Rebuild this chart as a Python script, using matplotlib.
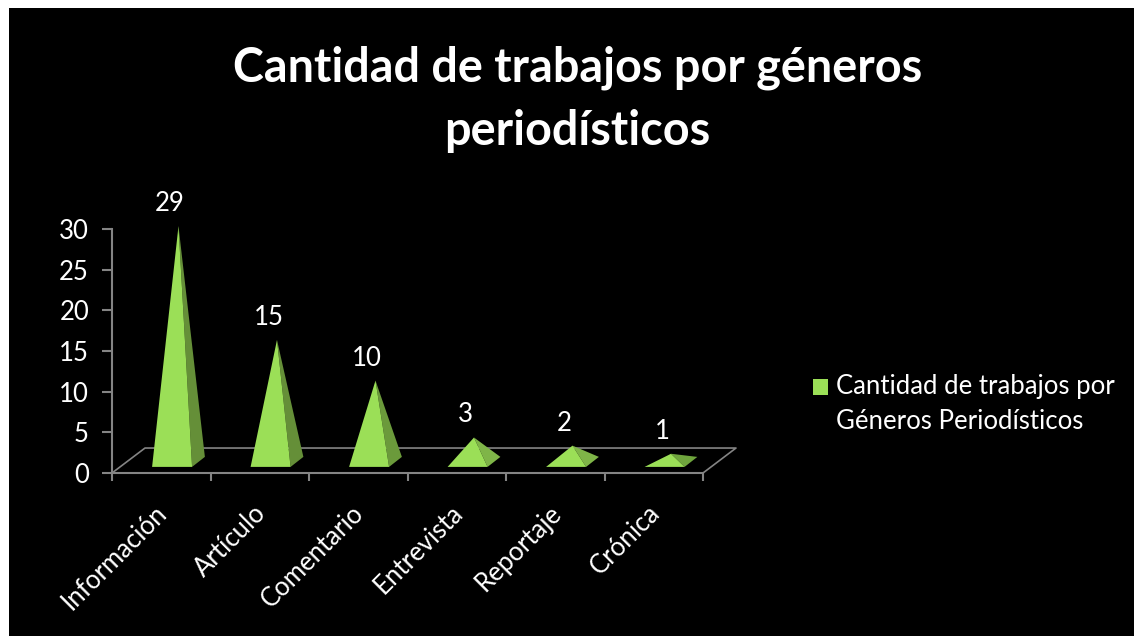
import matplotlib
matplotlib.use('Agg')
import matplotlib.pyplot as plt
from matplotlib.patches import Polygon, Patch, Rectangle

plt.rcParams['font.family'] = ['Lato', 'DejaVu Sans']

# Values
categories = ['Información', 'Artículo', 'Comentario', 'Entrevista', 'Reportaje', 'Crónica']
trabajos = [29, 15, 10, 3, 2, 1]
y_ticks = [0, 5, 10, 15, 20, 25, 30]
serie = 'Cantidad de trabajos por\nGéneros Periodísticos'
titulo = 'Cantidad de trabajos por géneros\nperiodísticos'

W, H = 1134, 636
GRIS = '#848484'
VERDE = '#9BDF57'
# side faces look lighter on the flat pyramids
lados = ['#658F38', '#658F38', '#6B9A3B', '#7FB548', '#7FB548', '#6FA53D']

fig = plt.figure(figsize=(W / 100, H / 100), dpi=100, facecolor='white')
fig.patches.append(Rectangle((9 / W, 0), 1, 1 - 8 / H, transform=fig.transFigure,
                             facecolor='black', edgecolor='none', zorder=-1))

ax = fig.add_axes([112 / W, 1 - 473 / H, 591 / W, 244 / H])
ax.set_facecolor('none')
ax.set_xlim(0, len(categories))
ax.set_ylim(0, 30)

for s in ['top', 'right']:
    ax.spines[s].set_visible(False)
for s in ['left', 'bottom']:
    ax.spines[s].set_color(GRIS)
    ax.spines[s].set_linewidth(1.5)

ax.set_yticks(y_ticks)
ax.set_xticks(range(len(categories) + 1))
ax.set_xticklabels([])
# labels sit a bit left of the category centre
ax.set_xticks([i + 0.43 for i in range(len(categories))], minor=True)
ax.set_xticklabels(categories, minor=True, rotation=45, ha='right', va='top',
                   rotation_mode='anchor', color='white', fontsize=18.5)
ax.tick_params(axis='x', which='major', length=6, width=1.5, color=GRIS)
ax.tick_params(axis='x', which='minor', length=0, pad=19.5)
ax.tick_params(axis='y', length=7, width=1.5, color=GRIS, labelcolor='white',
               labelsize=18.5, pad=9.5)

# floor of the fake 3D box
n = len(categories)
prof_x, prof_y = 0.335, 3.07
ax.plot([0, prof_x, n + prof_x, n], [0, prof_y, prof_y, 0], color=GRIS, lw=1.2, clip_on=False)

# pyramids
media = 0.203
for i, v in enumerate(trabajos):
    cx = i + 0.5 + 0.11
    y0 = 0.75
    fl = (cx - media, y0)
    fr = (cx + media, y0)
    br = (cx + media + 0.13, y0 + 1.23)
    apex = (cx + 0.065, y0 + 0.615 + v)
    ax.add_patch(Polygon([fr, br, apex], facecolor=lados[i], edgecolor='none', clip_on=False, zorder=3))
    ax.add_patch(Polygon([fl, fr, apex], facecolor=VERDE, edgecolor='none', clip_on=False, zorder=4))
    ax.annotate(str(v), xy=apex, xytext=(-6, 16.2), textcoords='offset points',
                ha='center', va='center', color='white', fontsize=18.5, annotation_clip=False)

fig.text(577.5 / W, 1 - 99 / H, titulo, color='white', fontsize=33.7, fontweight='bold',
         ha='center', va='center', linespacing=1.53)

leg = fig.legend(handles=[Patch(facecolor=VERDE, edgecolor='none', label=serie)],
                 loc='center left', bbox_to_anchor=(813 / W, 1 - 404 / H), frameon=False,
                 labelcolor='white', fontsize=18.5, handlelength=0.6, handleheight=0.6,
                 handletextpad=0.31, labelspacing=0, borderaxespad=0, borderpad=0)
leg.get_texts()[0].set_linespacing(1.5)
# the marker lines up with the first text line
marca = leg.legend_handles[0]
marca.set_y(marca.get_y() + 13)

fig.savefig('out.png', dpi=100, facecolor='white')
